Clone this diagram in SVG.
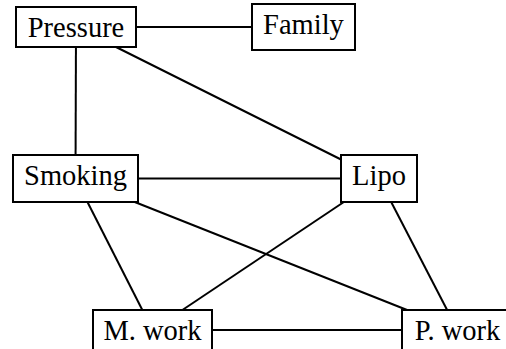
<svg xmlns="http://www.w3.org/2000/svg" width="506" height="349" viewBox="0 0 506 349">
<style>
.box{fill:#fff;stroke:#000;stroke-width:2}
.lbl{font-size:28.5px;fill:#000;text-anchor:middle}
.edge{stroke:#000;stroke-width:2;fill:none}
</style>
<rect width="506" height="349" fill="#fff"/>
<g id="connectors">
<line class="edge" x1="76" y1="27" x2="303.5" y2="27"/>
<line class="edge" x1="76" y1="27" x2="75.5" y2="178.5"/>
<line class="edge" x1="76" y1="27" x2="379" y2="178.5"/>
<line class="edge" x1="75.5" y1="178.5" x2="379" y2="178.5"/>
<line class="edge" x1="75.5" y1="178.5" x2="152.5" y2="330"/>
<line class="edge" x1="75.5" y1="178.5" x2="457.5" y2="330"/>
<line class="edge" x1="379" y1="178.5" x2="152.5" y2="330"/>
<line class="edge" x1="379" y1="178.5" x2="457.5" y2="330"/>
<line class="edge" x1="152.5" y1="330" x2="457.5" y2="330"/>
</g>
<g font-family="'Liberation Serif', Tinos, 'Times New Roman', 'DejaVu Serif', serif">
<g id="pressure"><rect class="box" x="16" y="7" width="120" height="40"/><text class="lbl" x="76" y="36.5">Pressure</text></g>
<g id="family"><rect class="box" x="252" y="4" width="103" height="46"/><text class="lbl" x="303.5" y="33.5">Family</text></g>
<g id="smoking"><rect class="box" x="13" y="155" width="125" height="47"/><text class="lbl" x="75.5" y="185">Smoking</text></g>
<g id="lipo"><rect class="box" x="341" y="155" width="76" height="47"/><text class="lbl" x="379" y="185">Lipo</text></g>
<g id="mwork"><rect class="box" x="93" y="310" width="119" height="40"/><text class="lbl" x="152.5" y="339.5">M. work</text></g>
<g id="pwork"><rect class="box" x="402" y="310" width="111" height="40"/><text class="lbl" x="457.5" y="339.5">P. work</text></g>
</g>
</svg>
